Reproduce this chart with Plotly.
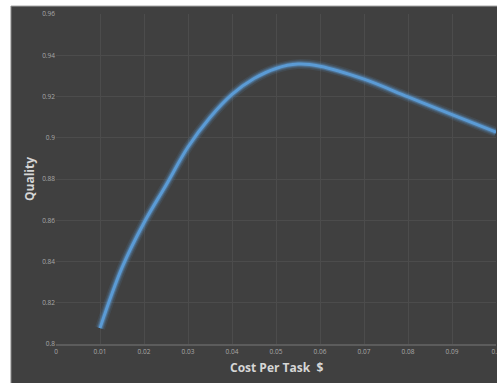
import plotly.graph_objects as go

# Cost per task ($) vs. observed quality
cost = [0.010, 0.015, 0.020, 0.025, 0.030, 0.035, 0.040, 0.045, 0.050, 0.055, 0.060, 0.070, 0.080, 0.090, 0.100]
quality = [0.8077, 0.8370, 0.8588, 0.8770, 0.8955, 0.9098, 0.9210, 0.9287, 0.9336, 0.9357, 0.9347, 0.9284, 0.9198, 0.9112, 0.9027]

x_ticks = [0, 0.01, 0.02, 0.03, 0.04, 0.05, 0.06, 0.07, 0.08, 0.09, 0.1]
x_tick_text = ["0", "0.01", "0.02", "0.03", "0.04", "0.05", "0.06", "0.07", "0.08", "0.09", "0.1"]
y_ticks = [0.8, 0.82, 0.84, 0.86, 0.88, 0.9, 0.92, 0.94, 0.96]
y_tick_text = ["0.8", "0.82", "0.84", "0.86", "0.88", "0.9", "0.92", "0.94", "0.96"]

BLUE = "#5b9bd5"
BG = "#404040"
GRID = "#4c4c4c"
TICK = "#a8a8a8"
TITLE = "#d6d6d6"

fig = go.Figure()

# soft glow under the main line
for w, a in [(10, 0.12), (7, 0.22), (5, 0.35)]:
    fig.add_trace(go.Scatter(
        x=cost, y=quality, mode="lines",
        line=dict(color=f"rgba(91,155,213,{a})", width=w, shape="spline", smoothing=1.0),
        hoverinfo="skip", showlegend=False,
    ))
fig.add_trace(go.Scatter(
    x=cost, y=quality, mode="lines",
    line=dict(color=BLUE, width=3, shape="spline", smoothing=1.0),
    showlegend=False,
))

axis_font = dict(family="Open Sans, sans-serif", size=6.5, color=TICK)

fig.update_xaxes(
    range=[0, 0.1], tickvals=x_ticks, ticktext=x_tick_text, tickfont=axis_font,
    showgrid=True, gridcolor=GRID, gridwidth=1, zeroline=False,
    showline=True, linecolor="#5c5c5c", linewidth=2, ticks="", fixedrange=True,
    ticklabeloverflow="allow", automargin=False,
)
fig.update_yaxes(
    range=[0.8, 0.96], tickvals=y_ticks, ticktext=y_tick_text, tickfont=axis_font,
    showgrid=True, gridcolor=GRID, gridwidth=1, zeroline=False,
    showline=False, ticks="", fixedrange=True, automargin=False,
)

title_font = dict(family="Open Sans, sans-serif", size=12, color=TITLE, weight="bold")

fig.update_layout(
    width=497, height=383,
    margin=dict(l=56, r=1, t=14, b=39),
    paper_bgcolor=BG, plot_bgcolor=BG,
    annotations=[
        dict(text="Quality", xref="paper", yref="paper", x=-0.0614, y=0.5,
             textangle=-90, showarrow=False, font=title_font,
             xanchor="center", yanchor="middle"),
        dict(text="Cost Per Task\u00a0\u00a0$", xref="paper", yref="paper", x=0.5, y=-0.0727,
             showarrow=False, font=title_font, xanchor="center", yanchor="middle"),
    ],
    shapes=[
        # white page margin at the left and top of the chart panel
        dict(type="rect", xref="paper", yref="paper", x0=-0.14, x1=-0.1023,
             y0=-0.2, y1=1.1, fillcolor="white", line=dict(width=0), layer="above"),
        dict(type="rect", xref="paper", yref="paper", x0=-0.14, x1=1.1,
             y0=1.0242, y1=1.1, fillcolor="white", line=dict(width=0), layer="above"),
        # panel border
        dict(type="line", xref="paper", yref="paper", x0=-0.1023, x1=1.1,
             y0=1.0242, y1=1.0242, line=dict(color="#a8a8a8", width=1), layer="above"),
        dict(type="line", xref="paper", yref="paper", x0=-0.1023, x1=-0.1023,
             y0=-0.2, y1=1.0242, line=dict(color="#8a8a8a", width=1), layer="above"),
    ],
)

fig.write_html("out.html")
